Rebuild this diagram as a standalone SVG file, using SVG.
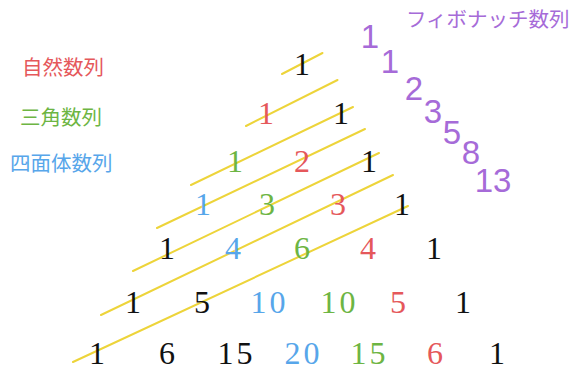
<svg xmlns="http://www.w3.org/2000/svg" width="577" height="367" viewBox="0 0 577 367">
<style>
.n{font-family:"Liberation Serif","DejaVu Serif",serif;font-size:32px;text-anchor:middle}
.k{fill:#111}.r{fill:#e5585b}.g{fill:#6db543}.b{fill:#57a6ea}
.f{font-family:"Liberation Sans","Noto Sans",sans-serif;font-size:33px;fill:#a66bd8;text-anchor:middle}
.lab{font-family:"Noto Sans CJK JP","Noto Sans CJK SC",sans-serif;font-size:20.5px}
.y{stroke:#edd43a;stroke-width:2;fill:none;stroke-linecap:round}
</style>
<rect width="577" height="367" fill="#fff"/>
<g id="connectors">
<line class="y" x1="282" y1="74" x2="322.5" y2="53"/>
<line class="y" x1="246" y1="126" x2="337.5" y2="80"/>
<line class="y" x1="191" y1="185" x2="353" y2="107"/>
<line class="y" x1="157" y1="228" x2="365" y2="129"/>
<line class="y" x1="133" y1="271" x2="379" y2="153"/>
<line class="y" x1="101" y1="315" x2="393" y2="175"/>
<line class="y" x1="73" y1="362" x2="408" y2="206"/>
</g>
<g id="labels">
<text class="lab r" x="22" y="75">自然数列</text>
<text class="lab g" x="20" y="125">三角数列</text>
<text class="lab b" x="10" y="171">四面体数列</text>
<text class="lab" x="406" y="27" fill="#a66bd8">フィボナッチ数列</text>
</g>
<g id="pascal">
<text class="n k" x="302" y="75">1</text>
<text class="n r" x="266" y="124">1</text>
<text class="n k" x="341" y="124">1</text>
<text class="n g" x="235" y="171.5">1</text>
<text class="n r" x="302" y="171.5">2</text>
<text class="n k" x="369" y="171.5">1</text>
<text class="n b" x="203" y="215">1</text>
<text class="n g" x="267" y="215">3</text>
<text class="n r" x="338" y="215">3</text>
<text class="n k" x="402" y="215">1</text>
<text class="n k" x="167" y="259">1</text>
<text class="n b" x="233" y="259">4</text>
<text class="n g" x="302" y="259">6</text>
<text class="n r" x="368" y="259">4</text>
<text class="n k" x="434" y="259">1</text>
<text class="n k" x="133" y="312.5">1</text>
<text class="n k" x="202" y="312.5">5</text>
<text class="n b" x="268" y="312.5">1<tspan dx="3">0</tspan></text>
<text class="n g" x="338" y="312.5">1<tspan dx="3">0</tspan></text>
<text class="n r" x="398" y="312.5">5</text>
<text class="n k" x="463" y="312.5">1</text>
<text class="n k" x="97" y="363.5">1</text>
<text class="n k" x="167" y="363.5">6</text>
<text class="n k" x="235" y="363.5">1<tspan dx="3">5</tspan></text>
<text class="n b" x="302" y="363.5">2<tspan dx="3">0</tspan></text>
<text class="n g" x="368" y="363.5">1<tspan dx="3">5</tspan></text>
<text class="n r" x="435" y="363.5">6</text>
<text class="n k" x="497" y="363.5">1</text>
</g>
<g id="fibonacci">
<text class="f" x="370" y="48">1</text>
<text class="f" x="390" y="72.5">1</text>
<text class="f" x="414" y="100">2</text>
<text class="f" x="433" y="122.5">3</text>
<text class="f" x="452" y="143.5">5</text>
<text class="f" x="471" y="163.5">8</text>
<text class="f" x="493" y="191.5">13</text>
</g>
</svg>
